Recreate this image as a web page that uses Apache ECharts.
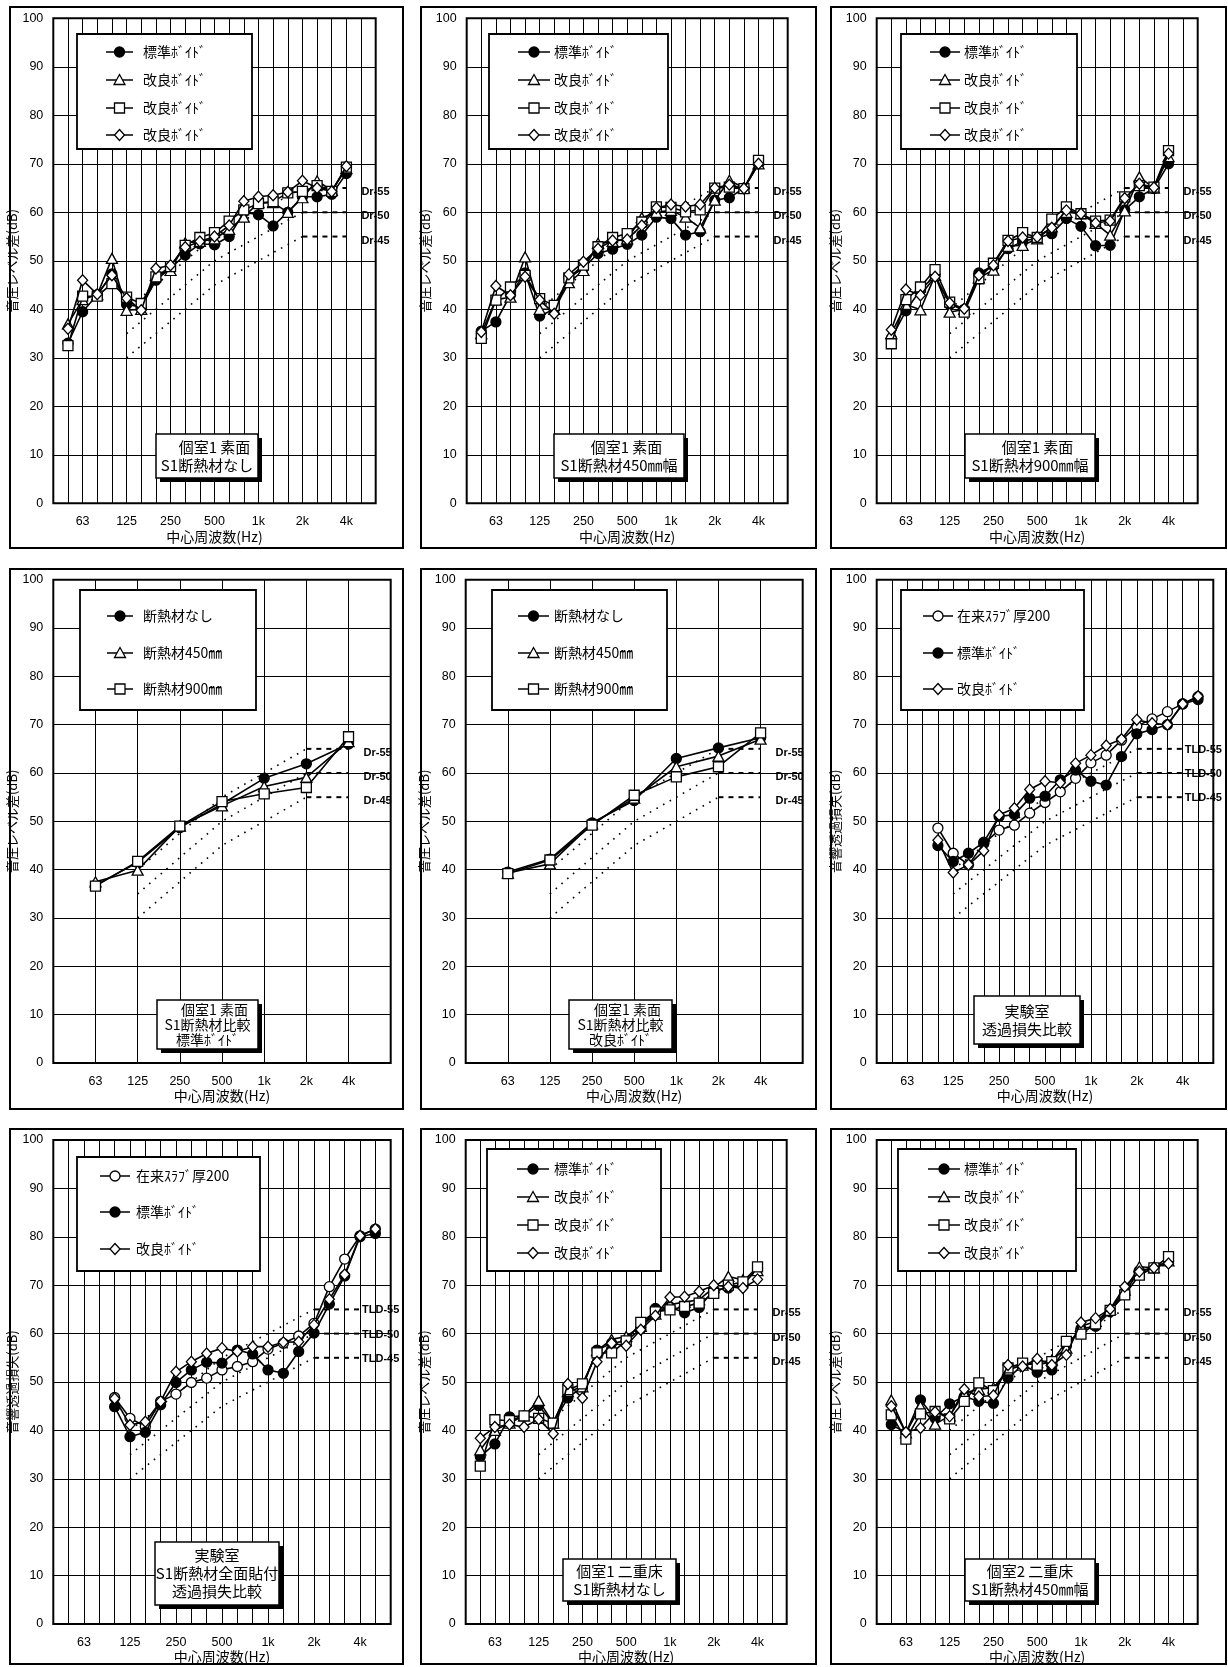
<!DOCTYPE html>
<html>
<head>
<meta charset="utf-8">
<script src="https://cdn.jsdelivr.net/npm/echarts@6/dist/echarts.min.js"></script>
<style>
html, body { margin: 0; padding: 0; background: #fff; }
#chart { width: 1228px; height: 1667px; }
</style>
</head>
<body>
<div id="chart"></div>
<script>
// 1/3オクターブ帯域（軸位置 0..22）とオクターブ帯域（軸位置 0..8）
const bands = ['40','50','63','80','100','125','160','200','250','315','400','500','630','800','1k','1.25k','1.6k','2k','2.5k','3.15k','4k','5k','6.3k'];
const octBands = ['31.5','63','125','250','500','1k','2k','4k','8k'];
const tickLabels = ['63','125','250','500','1k','2k','4k'];

// 基準曲線 (Dr / TLD)
const refFreqs = ['125','500','1k','2k','4k'];
const ref55 = [40, 55, 60, 65, 65];
const ref50 = [35, 50, 55, 60, 60];
const ref45 = [30, 45, 50, 55, 55];

// 個室1 素面 S1断熱材なし (50Hz〜4kHz)
const p1Std = [33, 39.5, 43, 47.3, 41, 40.5, 46, 48.5, 51.2, 53.5, 53.3, 55, 60, 59.5, 57.2, 60, 63.2, 63.2, 63.7, 68];
const p1A   = [37, 42, 43, 50.5, 39.8, 40, 47, 48, 53.7, 54, 54.5, 56.5, 59, 62, 62, 60, 63, 66.5, 64.5, 69];
const p1B   = [32.5, 42.7, 42.7, 45.3, 42.5, 41.2, 46.7, 48.8, 53.2, 54.8, 55.8, 58.2, 60.5, 61.8, 62.2, 64, 64.3, 65.5, 64.3, 69.3];
const p1C   = [36, 46, 43.1, 47, 42.3, 39.8, 48.4, 49.1, 52.8, 54, 55, 57.3, 62.3, 63.2, 63.5, 64.2, 66.5, 65, 64.3, 69.5];

// 個室1 素面 S1断熱材450mm幅
const p2Std = [35.5, 37.4, 43, 47.5, 38.6, 40, 46.5, 48.5, 51.5, 52.4, 53.4, 55.3, 59, 58.7, 55.3, 56, 62.5, 63, 65, 70];
const p2A   = [35, 42, 42.5, 50.8, 40, 40, 45.5, 48, 53.6, 54, 54.5, 58.9, 60, 60.4, 59, 56.8, 62.5, 66.6, 65, 70];
const p2B   = [34, 41.9, 44.6, 47, 42.2, 40.8, 46.5, 49.1, 52.9, 54.8, 55.6, 58, 61.1, 61, 60.1, 60.5, 65, 65.2, 64.9, 70.7];
const p2C   = [35.3, 44.8, 42.9, 46.7, 41.9, 39.1, 47.2, 49.8, 52.5, 54.2, 54.4, 57.3, 60.9, 61.6, 61.2, 61.6, 65, 65.7, 64.9, 70];

// 個室1 素面 S1断熱材900mm幅
const p3Std = [34, 39.7, 44, 47, 41, 40, 47.5, 49, 52.5, 54, 54.7, 55.6, 58.7, 57.1, 53.1, 53.2, 60.5, 63.2, 64.9, 70];
const p3A   = [35, 41, 39.9, 47, 39.4, 40, 46.5, 48.1, 53, 53.2, 54.5, 57, 60, 59.7, 57.7, 55.3, 60.3, 67.3, 65, 71.5];
const p3B   = [32.9, 42, 44.6, 48.2, 41.5, 39.4, 46.3, 49.5, 54.2, 55.8, 54.8, 58.6, 61.1, 59.7, 58.2, 58.4, 63.2, 65.5, 65.2, 72.7];
const p3C   = [35.8, 44.1, 42.9, 46.7, 41.3, 40.1, 47, 49.1, 54.1, 54.8, 54.9, 56.8, 60.4, 59.7, 57.8, 58.2, 62.9, 65.9, 65.1, 72.1];

// S1断熱材比較 (オクターブ 63Hz〜4kHz)
const p4None = [36.8, 41.5, 48.7, 53.6, 58.9, 61.9, 66];
const p4W450 = [37.5, 39.9, 49, 53.2, 57.2, 59.1, 66.5];
const p4W900 = [36.6, 41.7, 49, 54.1, 55.7, 57, 67.5];
const p5None = [39.5, 42.2, 49.7, 54.3, 63, 65.2, 67.3];
const p5W450 = [39.3, 41.2, 49.5, 54.8, 61.3, 63.5, 67];
const p5W900 = [39.2, 42, 49.2, 55.4, 59.2, 61.3, 68.3];

// 実験室 透過損失 (100Hz〜5kHz)
const p6Conv = [48.6, 43.4, 41, 45.4, 48.2, 49.2, 51.7, 53.9, 56.1, 58.9, 62.1, 63.7, 66.8, 69.7, 71.2, 72.7, 74.3, 75.8];
const p6Std  = [45, 41.7, 43.4, 45.7, 51, 51.4, 54.8, 55.2, 58.6, 60.6, 58.3, 57.5, 63.4, 68.1, 69, 70, 74.3, 75.2];
const p6Imp  = [46.1, 39.4, 41, 43.9, 51.3, 52.7, 56.6, 58.3, 58, 62, 63.7, 65.7, 67, 71, 70.3, 70, 74.3, 75.9];
const p7Conv = [46.8, 42.5, 40.8, 46, 47.5, 49.9, 50.8, 52.5, 53.2, 54.2, 56.8, 58, 59.5, 62.1, 69.7, 75.4, 80.2, 81.6];
const p7Std  = [44.9, 38.7, 39.6, 45.3, 49.9, 52.5, 54.1, 53.9, 56.6, 55.8, 52.5, 51.8, 56.3, 60.1, 66.1, 71.9, 80, 80.7];
const p7Imp  = [46.6, 41.1, 41.8, 46, 52.1, 54.2, 55.9, 57, 56.3, 57.3, 57.3, 58.2, 58.3, 61.8, 67.1, 72.2, 80.2, 81.6];

// 二重床 (50Hz〜4kHz)
const p8Std = [34.6, 37.2, 42.8, 43, 45.1, 41.5, 46.7, 49, 56.6, 58, 58.5, 61, 65.2, 65.5, 64.3, 65.4, 69, 69.4, 70, 73.5];
const p8A   = [36, 40, 41.5, 43, 46.2, 41.5, 48, 49, 56.5, 58.8, 59.4, 61.5, 64, 66, 66.5, 67, 69.5, 71.8, 71.1, 73];
const p8B   = [32.6, 42.2, 42, 43, 42.5, 41.5, 48.4, 49.6, 56, 56, 58.5, 62.3, 64.5, 64.9, 65.6, 66.3, 68.3, 70, 70.7, 73.8];
const p8C   = [38.4, 40.7, 41.2, 40.7, 42.3, 39.3, 49.6, 46.7, 54.2, 58, 57.5, 60.8, 63.7, 67.5, 67.6, 68.7, 70, 69.7, 69.4, 71.2];
const p9Std = [41.2, 39.5, 46.3, 42.5, 45.5, 47, 46, 45.6, 50.8, 53.5, 52, 52.5, 57.5, 61, 61.5, 64.5, 68.5, 73, 73.6, 75];
const p9A   = [46.3, 39.5, 45, 41.3, 43, 47.7, 48.5, 48.8, 52.5, 53.5, 54, 54.5, 57, 61.5, 62.5, 65, 69, 73.8, 73.6, 75];
const p9B   = [43.2, 38.2, 43.4, 43.9, 42.4, 46, 49.8, 48.2, 52.9, 53.9, 53.5, 54.2, 58.4, 59.9, 62, 64.8, 68, 72.1, 73.6, 75.9];
const p9C   = [45, 39.6, 40.5, 43.8, 42.9, 48.5, 47, 47.2, 53.5, 53.2, 54.8, 53.5, 55.6, 62.3, 63.2, 65.1, 69.7, 72.8, 73.6, 74.5];

const FONT_JP = '"Noto Sans CJK JP", sans-serif';
const FONT_NUM = '"Liberation Sans", Arial, sans-serif';

const STD = '標準ﾎﾞｲﾄﾞ', IMP = '改良ﾎﾞｲﾄﾞ', CONV = '在来ｽﾗﾌﾞ厚200';
const DR = { names: ['Dr-55', 'Dr-50', 'Dr-45'], dist: 15, offY: 4 };
const TL = { names: ['TLD-55', 'TLD-50', 'TLD-45'], dist: 2, offY: 1 };
const Y_DR = '音圧レベル差(dB)', Y_TL = '音響透過損失(dB)';

const marks = {
  std:  { symbol: 'circle', size: 10, fill: '#000' },
  conv: { symbol: 'circle', size: 10, fill: '#fff' },
  tri:  { symbol: 'triangle', size: [11, 10], fill: '#fff' },
  sq:   { symbol: 'rect', size: 10, fill: '#fff' },
  dia:  { symbol: 'diamond', size: [10, 11], fill: '#fff' }
};

const fourVoid = (s, a, b, c) => [[STD, 'std', s], [IMP, 'tri', a], [IMP, 'sq', b], [IMP, 'dia', c]];
const legTop = [52, 80, 108, 135];
const legBot = [1169, 1197, 1225, 1253];

const panels = [
  { frame: [10, 7, 403, 548], grid: [53.3, 18.3, 322.4, 485], scale: 'third', start: '50', yName: Y_DR, ref: DR,
    lines: fourVoid(p1Std, p1A, p1B, p1C),
    legend: { box: [77, 34, 252, 149], line: [106, 133], tx: 143, ys: legTop },
    note: { box: [156, 434, 258, 478], text: ['　個室1 素面', 'S1断熱材なし'], fs: 15, lh: 18 } },
  { frame: [421, 7, 816, 548], grid: [466.7, 18.3, 321, 485], scale: 'third', start: '50', yName: Y_DR, ref: DR,
    lines: fourVoid(p2Std, p2A, p2B, p2C),
    legend: { box: [489, 34, 668, 149], line: [518, 550], tx: 554, ys: legTop },
    note: { box: [554, 434, 684, 478], text: ['　個室1 素面', 'S1断熱材450㎜幅'], fs: 15, lh: 18 } },
  { frame: [831, 7, 1226, 548], grid: [876.7, 18.3, 321, 485], scale: 'third', start: '50', yName: Y_DR, ref: DR,
    lines: fourVoid(p3Std, p3A, p3B, p3C),
    legend: { box: [901, 34, 1077, 149], line: [930, 960], tx: 964, ys: legTop },
    note: { box: [965, 434, 1095, 478], text: ['　個室1 素面', 'S1断熱材900㎜幅'], fs: 15, lh: 18 } },
  { frame: [10, 569, 403, 1109], grid: [53.3, 579.7, 337.4, 483.3], scale: 'oct', start: '63', yName: Y_DR, ref: DR,
    lines: [['断熱材なし', 'std', p4None], ['断熱材450㎜', 'tri', p4W450], ['断熱材900㎜', 'sq', p4W900]],
    legend: { box: [80, 590, 256, 710], line: [107, 133], tx: 143, ys: [616, 653, 689] },
    note: { box: [157, 1000, 258, 1049], text: ['　個室1 素面', 'S1断熱材比較', '標準ﾎﾞｲﾄﾞ'], fs: 14, lh: 15 } },
  { frame: [421, 569, 816, 1109], grid: [465.7, 579.7, 337, 483.3], scale: 'oct', start: '63', yName: Y_DR, ref: DR,
    lines: [['断熱材なし', 'std', p5None], ['断熱材450㎜', 'tri', p5W450], ['断熱材900㎜', 'sq', p5W900]],
    legend: { box: [492, 590, 667, 710], line: [518, 549], tx: 554, ys: [616, 653, 689] },
    note: { box: [569, 1000, 672, 1049], text: ['　個室1 素面', 'S1断熱材比較', '改良ﾎﾞｲﾄﾞ'], fs: 14, lh: 15 } },
  { frame: [831, 569, 1226, 1109], grid: [876.7, 579.7, 336.6, 483.3], scale: 'third', start: '100', yName: Y_TL, ref: TL,
    lines: [[CONV, 'conv', p6Conv], [STD, 'std', p6Std], [IMP, 'dia', p6Imp]],
    legend: { box: [901, 590, 1084, 710], line: [923, 953], tx: 957, ys: [616, 653, 689] },
    note: { box: [974, 996, 1080, 1044], text: ['実験室', '透過損失比較'], fs: 15, lh: 18 } },
  { frame: [10, 1129, 403, 1664], grid: [53.3, 1140, 337.4, 484], scale: 'third', start: '100', yName: Y_TL, ref: TL,
    lines: [[CONV, 'conv', p7Conv], [STD, 'std', p7Std], [IMP, 'dia', p7Imp]],
    legend: { box: [77, 1157, 260, 1271], line: [100, 130], tx: 136, ys: [1176, 1212, 1249] },
    note: { box: [155, 1542, 279, 1605], text: ['実験室', 'S1断熱材全面貼付', '透過損失比較'], fs: 15, lh: 18 } },
  { frame: [421, 1129, 816, 1664], grid: [465.7, 1140, 321, 484], scale: 'third', start: '50', yName: Y_DR, ref: DR,
    lines: fourVoid(p8Std, p8A, p8B, p8C),
    legend: { box: [487, 1149, 661, 1271], line: [517, 549], tx: 554, ys: legBot },
    note: { box: [563, 1559, 676, 1601], text: ['個室1 二重床', 'S1断熱材なし'], fs: 15, lh: 18 } },
  { frame: [831, 1129, 1226, 1664], grid: [876.7, 1140, 321, 484], scale: 'third', start: '50', yName: Y_DR, ref: DR,
    lines: fourVoid(p9Std, p9A, p9B, p9C),
    legend: { box: [898, 1149, 1076, 1271], line: [928, 960], tx: 964, ys: legBot },
    note: { box: [965, 1559, 1095, 1601], text: ['個室2 二重床', 'S1断熱材450㎜幅'], fs: 15, lh: 18 } }
];

// 凡例用のマーカー図形
function legendSymbol(kind, cx, cy) {
  const m = marks[kind];
  const style = { fill: m.fill, stroke: '#000', lineWidth: 1.3 };
  if (m.symbol === 'circle') return { type: 'circle', shape: { cx: cx, cy: cy, r: 5 }, style: style, z: 102 };
  if (m.symbol === 'rect') return { type: 'rect', shape: { x: cx - 5, y: cy - 5, width: 10, height: 10 }, style: style, z: 102 };
  if (m.symbol === 'triangle') return { type: 'polygon', shape: { points: [[cx, cy - 5.5], [cx + 5.5, cy + 4.5], [cx - 5.5, cy + 4.5]] }, style: style, z: 102 };
  return { type: 'polygon', shape: { points: [[cx, cy - 5.5], [cx + 5, cy], [cx, cy + 5.5], [cx - 5, cy]] }, style: style, z: 102 };
}

const grids = [], xAxes = [], yAxes = [], series = [], graphics = [];

panels.forEach((p, k) => {
  const pos = p.scale === 'third' ? bands : octBands;
  grids.push({ left: p.grid[0], top: p.grid[1], width: p.grid[2], height: p.grid[3],
    show: true, borderColor: '#000', borderWidth: 2, backgroundColor: '#fff' });

  xAxes.push({
    gridIndex: k, type: 'value', min: 0, max: pos.length - 1, interval: 1,
    axisLine: { show: false }, axisTick: { show: false },
    splitLine: { show: true, lineStyle: { color: '#000', width: 1 } },
    axisLabel: {
      margin: 12, color: '#000', fontSize: 12.5, fontFamily: FONT_NUM,
      formatter: v => { const f = pos[Math.round(v)]; return tickLabels.includes(f) ? f : ''; }
    },
    name: '中心周波数(Hz)', nameLocation: 'middle', nameGap: 26,
    nameTextStyle: { color: '#000', fontSize: 14, fontFamily: FONT_JP }
  });

  yAxes.push({
    gridIndex: k, type: 'value', min: 0, max: 100, interval: 10,
    axisLine: { show: false }, axisTick: { show: false },
    splitLine: { show: true, lineStyle: { color: '#000', width: 1 } },
    axisLabel: { margin: 10, color: '#000', fontSize: 12.5, fontFamily: FONT_NUM },
    name: p.yName, nameLocation: 'middle', nameGap: 30,
    nameTextStyle: { color: '#000', fontSize: 13, fontFamily: FONT_JP }
  });

  // 基準曲線: 125Hz〜2kHz は点線、2kHz〜4kHz は破線
  [ref55, ref50, ref45].forEach((vals, r) => {
    const pts = refFreqs.map((f, i) => [pos.indexOf(f), vals[i]]);
    series.push({
      type: 'line', xAxisIndex: k, yAxisIndex: k, name: p.ref.names[r], z: 2,
      data: pts.slice(0, 4), symbol: 'none', silent: true,
      lineStyle: { color: '#000', width: 1.6, type: [1.6, 6] }
    });
    series.push({
      type: 'line', xAxisIndex: k, yAxisIndex: k, name: p.ref.names[r], z: 2,
      data: pts.slice(3), symbol: 'none', silent: true,
      lineStyle: { color: '#000', width: 2, type: [5, 5] },
      endLabel: { show: true, formatter: '{a}', distance: p.ref.dist, offset: [0, p.ref.offY],
        color: '#000', fontSize: 11, fontWeight: 'bold', fontFamily: FONT_NUM }
    });
  });

  // 測定結果
  p.lines.forEach((ln, j) => {
    const name = ln[0], m = marks[ln[1]];
    const vals = ln[ln.length - 1];
    const start = pos.indexOf(p.start);
    series.push({
      type: 'line', xAxisIndex: k, yAxisIndex: k, name: name, z: 3 + j,
      data: vals.map((v, i) => [start + i, v]),
      symbol: m.symbol, symbolSize: m.size, showAllSymbol: true,
      lineStyle: { color: '#000', width: 1.6 },
      itemStyle: { color: m.fill, borderColor: '#000', borderWidth: 1.3 }
    });
  });

  // 外枠
  const fr = p.frame;
  graphics.push({ type: 'rect', z: 50, silent: true,
    shape: { x: fr[0], y: fr[1], width: fr[2] - fr[0], height: fr[3] - fr[1] },
    style: { fill: null, stroke: '#000', lineWidth: 2 } });

  // 凡例
  const lg = p.legend, b = lg.box;
  graphics.push({ type: 'rect', z: 100,
    shape: { x: b[0], y: b[1], width: b[2] - b[0], height: b[3] - b[1] },
    style: { fill: '#fff', stroke: '#000', lineWidth: 1.8 } });
  p.lines.forEach((ln, j) => {
    const y = lg.ys[j], cx = (lg.line[0] + lg.line[1]) / 2;
    graphics.push({ type: 'line', z: 101, shape: { x1: lg.line[0], y1: y, x2: lg.line[1], y2: y },
      style: { stroke: '#000', lineWidth: 1.5 } });
    graphics.push(legendSymbol(ln[1], cx, y));
    graphics.push({ type: 'text', z: 102, x: lg.tx, y: y,
      style: { text: ln[0], fill: '#000', fontSize: 14, fontFamily: FONT_JP, verticalAlign: 'middle', align: 'left' } });
  });

  // 注記ボックス（影付き）
  const nb = p.note.box;
  graphics.push({ type: 'rect', z: 100, shape: { x: nb[0] + 4, y: nb[1] + 4, width: nb[2] - nb[0], height: nb[3] - nb[1] },
    style: { fill: '#000' } });
  graphics.push({ type: 'rect', z: 101, shape: { x: nb[0], y: nb[1], width: nb[2] - nb[0], height: nb[3] - nb[1] },
    style: { fill: '#fff', stroke: '#000', lineWidth: 1.5 } });
  graphics.push({ type: 'text', z: 102, x: (nb[0] + nb[2]) / 2, y: (nb[1] + nb[3]) / 2,
    style: { text: p.note.text.join('\n'), fill: '#000', fontSize: p.note.fs, lineHeight: p.note.lh,
      fontFamily: FONT_JP, align: 'center', verticalAlign: 'middle' } });
});

const chart = echarts.init(document.getElementById('chart'));
chart.setOption({
  animation: false,
  backgroundColor: '#fff',
  grid: grids,
  xAxis: xAxes,
  yAxis: yAxes,
  series: series,
  graphic: graphics
});
</script>
</body>
</html>
